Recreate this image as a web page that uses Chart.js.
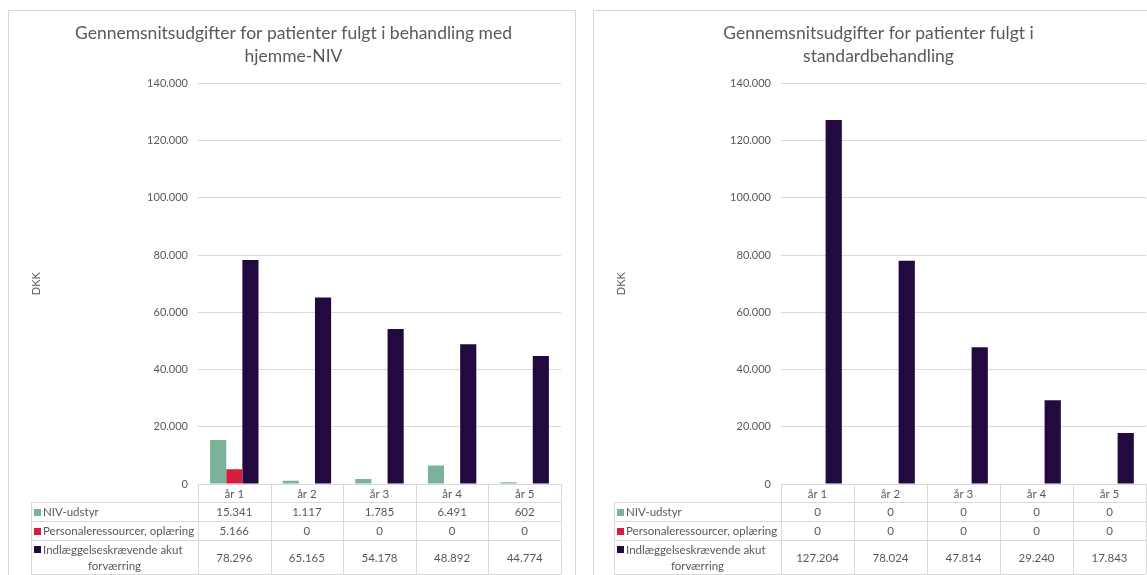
<!DOCTYPE html>
<html>
<head>
<meta charset="utf-8">
<script src="https://cdn.jsdelivr.net/npm/chart.js@4"></script>
<style>
  html, body { margin: 0; padding: 0; background: #fff; overflow: hidden; }
  body { width: 1147px; height: 575px; position: relative; }
  .box { position: absolute; top: 10px; width: 566px; height: 600px; border: 1px solid #d9d9d9; }
  .wrap { position: absolute; left: 0; top: 0; width: 566px; height: 564px; }
</style>
</head>
<body>
<div class="box" style="left:8px"><div class="wrap"><canvas id="chart-home"></canvas></div></div>
<div class="box" style="left:593px"><div class="wrap"><canvas id="chart-std"></canvas></div></div>
<script>
// data
const years = ["år 1", "år 2", "år 3", "år 4", "år 5"];
const seriesNames = ["NIV-udstyr", "Personaleressourcer, oplæring", "Indlæggelseskrævende akut forværring"];
const seriesColors = ["#7bb39a", "#d41e40", "#220a40"];

const homeNiv = [15341, 1117, 1785, 6491, 602];
const homeStaff = [5166, 0, 0, 0, 0];
const homeAdmit = [78296, 65165, 54178, 48892, 44774];

const stdNiv = [0, 0, 0, 0, 0];
const stdStaff = [0, 0, 0, 0, 0];
const stdAdmit = [127204, 78024, 47814, 29240, 17843];

const yMax = 140000;
const yStep = 20000;

const textColor = "#595959";
const lineColor = "#d9d9d9";
const fontFam = "Lato, 'Liberation Sans', sans-serif";
Chart.defaults.font.family = fontFam;
Chart.defaults.color = textColor;

// 15341 -> 15.341
function fmt(v) {
    return String(Math.round(v)).replace(/\B(?=(\d{3})+(?!\d))/g, ".");
}

function wrapText(ctx, text, maxW) {
    const words = text.split(" ");
    const lines = [];
    let cur = "";
    words.forEach(w => {
        const t = cur ? cur + " " + w : w;
        if (ctx.measureText(t).width > maxW && cur) {
            lines.push(cur);
            cur = w;
        } else {
            cur = t;
        }
    });
    if (cur) lines.push(cur);
    return lines;
}

// table under the plot, like excel's data table
const dataTable = {
    id: "dataTable",
    afterDraw(chart) {
        const { ctx, chartArea } = chart;
        const xs = chart.scales.x;
        const n = chart.data.labels.length;
        const cw = (chartArea.right - chartArea.left) / n;
        const left = chartArea.left;
        const right = chartArea.right;
        const legLeft = left - 167;
        const heights = [18, 19, 19, 34];
        const ys = [chartArea.bottom];
        heights.forEach(h => ys.push(ys[ys.length - 1] + h));

        ctx.save();
        ctx.strokeStyle = lineColor;
        ctx.lineWidth = 1;
        ctx.beginPath();
        // horizontal lines
        ctx.moveTo(left, ys[0] + 0.5); ctx.lineTo(right, ys[0] + 0.5);
        for (let r = 1; r < ys.length; r++) {
            ctx.moveTo(legLeft, ys[r] + 0.5); ctx.lineTo(right, ys[r] + 0.5);
        }
        // vertical lines
        for (let i = 0; i <= n; i++) {
            const x = Math.round(left + i * cw) + 0.5;
            ctx.moveTo(x, ys[0]); ctx.lineTo(x, ys[ys.length - 1]);
        }
        ctx.moveTo(legLeft + 0.5, ys[1]); ctx.lineTo(legLeft + 0.5, ys[ys.length - 1]);
        ctx.stroke();

        ctx.font = "11.5px " + fontFam;
        ctx.fillStyle = textColor;
        ctx.textBaseline = "middle";
        ctx.textAlign = "center";
        chart.data.labels.forEach((lab, i) => {
            ctx.fillText(lab, xs.getPixelForValue(i), (ys[0] + ys[1]) / 2 + 1);
        });

        chart.data.datasets.forEach((ds, r) => {
            const yTop = ys[r + 1], yBot = ys[r + 2];
            const yMid = (yTop + yBot) / 2;
            ctx.font = "11.5px " + fontFam;
            ds.data.forEach((v, i) => {
                ctx.textAlign = "center";
                ctx.fillStyle = textColor;
                ctx.fillText(fmt(v), xs.getPixelForValue(i), yMid + 1);
            });
            ctx.font = "11.5px " + fontFam;
            // only the tall row gets wrapped
            const lines = (yBot - yTop) > 25 ? wrapText(ctx, ds.label, left - legLeft - 14) : [ds.label];
            const lh = 16;
            let y0 = yMid - (lines.length - 1) * lh / 2;
            lines.forEach((ln, k) => {
                const y = y0 + k * lh;
                if (k === 0) {
                    ctx.fillStyle = ds.backgroundColor;
                    ctx.fillRect(legLeft + 3, Math.round(y - 3), 7, 7);
                    ctx.fillStyle = textColor;
                    ctx.textAlign = "left";
                    ctx.fillText(ln, legLeft + 12, y + 1, left - legLeft - 13);
                } else {
                    ctx.fillStyle = textColor;
                    ctx.textAlign = "center";
                    ctx.fillText(ln, (legLeft + left) / 2, y + 1);
                }
            });
        });
        ctx.restore();
    }
};

function makeChart(id, titleLines, values, yWidth) {
    const ctx = document.getElementById(id);
    new Chart(ctx, {
        type: "bar",
        data: {
            labels: years,
            datasets: values.map((vals, i) => ({
                label: seriesNames[i],
                data: vals,
                backgroundColor: seriesColors[i],
                borderWidth: 0,
                categoryPercentage: 0.667,
                barPercentage: 1
            }))
        },
        options: {
            responsive: true,
            maintainAspectRatio: false,
            animation: false,
            layout: { padding: { left: 17, right: 14, bottom: 91, top: 0 } },
            plugins: {
                legend: { display: false },
                tooltip: { enabled: false },
                title: {
                    display: true,
                    text: titleLines,
                    color: textColor,
                    font: { size: 17.5, weight: "normal", lineHeight: 1.3 },
                    padding: { top: 11, bottom: 16 }
                }
            },
            scales: {
                x: {
                    display: false
                },
                y: {
                    min: 0,
                    max: yMax,
                    afterFit: s => { s.width = yWidth; },
                    border: { display: false },
                    grid: { color: lineColor, drawTicks: false },
                    ticks: {
                        stepSize: yStep,
                        padding: 10,
                        font: { size: 11 },
                        callback: v => fmt(v)
                    },
                    title: {
                        display: true,
                        text: "DKK",
                        font: { size: 11 },
                        padding: { top: 4, bottom: 4 }
                    }
                }
            }
        },
        plugins: [dataTable]
    });
}

makeChart("chart-home",
    ["Gennemsnitsudgifter for patienter fulgt i behandling med", "hjemme-NIV"],
    [homeNiv, homeStaff, homeAdmit], 172);
makeChart("chart-std",
    ["Gennemsnitsudgifter for patienter fulgt i", "standardbehandling"],
    [stdNiv, stdStaff, stdAdmit], 170);
</script>
</body>
</html>
